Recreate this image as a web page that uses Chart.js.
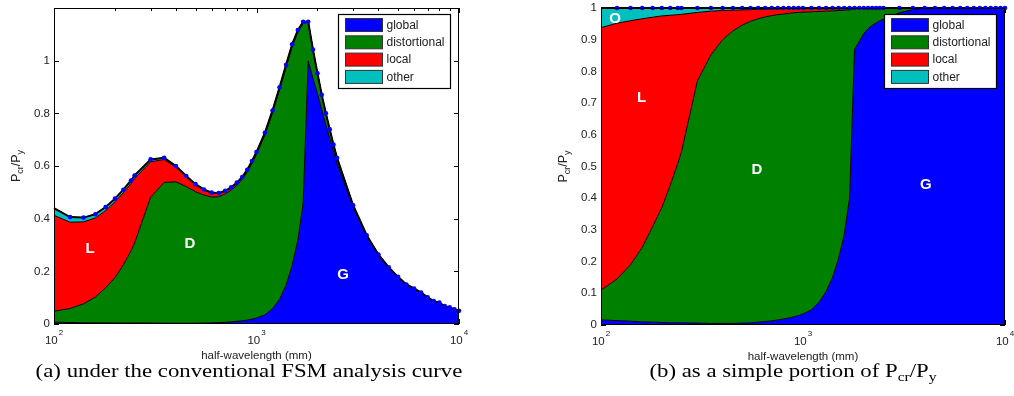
<!DOCTYPE html>
<html><head><meta charset="utf-8">
<script src="https://cdn.jsdelivr.net/npm/chart.js@4.4.0/dist/chart.umd.min.js"></script>
<style>
html,body{margin:0;padding:0;background:#fff;}
#wrap{position:relative;width:1014px;height:396px;overflow:hidden;background:#fff;}
canvas{position:absolute;top:0;}
</style></head><body>
<div id="wrap">
<canvas id="cA" width="507" height="396" style="left:0;width:507px;height:396px"></canvas>
<canvas id="cB" width="507" height="396" style="left:507px;width:507px;height:396px"></canvas>
</div>
<script>
// ---------------- data ----------------
const halfWavelength = [100,120,140,160,180,200,220,240,250,300,350,400,450,500,550,600,650,700,750,800,850,900,950,1000,
  1100,1200,1300,1400,1500,1600,1700,1800,1900,2000,2100,2200,2300,2400,2500,
  3000,3500,4000,4500,5000,5500,6000,6500,7000,7500,8000,8500,9000,9500,10000];
// P_cr / P_y from the conventional FSM curve
const pcrPy = [0.440,0.406,0.404,0.417,0.444,0.476,0.510,0.545,0.564,0.625,0.631,0.600,0.562,0.531,0.511,0.499,0.497,0.506,0.519,0.537,0.558,0.586,0.619,0.653,
  0.726,0.811,0.899,0.984,1.062,1.116,1.148,1.148,1.042,0.952,0.870,0.800,0.739,0.681,0.630,
  0.451,0.337,0.264,0.215,0.179,0.150,0.135,0.119,0.101,0.087,0.081,0.068,0.063,0.056,0.050];
// modal participation (portion of P_cr/P_y)
const globalPart = [0.016,0.014,0.012,0.010,0.009,0.008,0.007,0.007,0.007,0.006,0.005,0.005,0.005,0.006,0.007,0.009,0.011,0.013,0.016,0.019,0.022,0.026,0.030,0.035,
  0.048,0.072,0.105,0.150,0.210,0.285,0.400,0.870,0.895,0.920,0.935,0.945,0.953,0.960,0.965,
  0.985,0.995,1,1,1,1,1,1,1,1,1,1,1,1,1];
const distortionalPart = [0.094,0.131,0.178,0.235,0.301,0.362,0.433,0.503,0.538,0.764,0.847,0.895,0.923,0.940,0.951,0.957,0.961,0.963,0.963,0.962,0.961,0.959,0.956,0.952,
  0.940,0.917,0.885,0.841,0.782,0.708,0.594,0.129,0.105,0.080,0.065,0.055,0.047,0.040,0.035,
  0.015,0.005,0,0,0,0,0,0,0,0,0,0,0,0,0];
const localPart = [0.828,0.807,0.770,0.721,0.661,0.605,0.537,0.469,0.435,0.216,0.138,0.092,0.065,0.048,0.037,0.030,0.024,0.021,0.018,0.017,0.015,0.013,0.012,0.011,
  0.010,0.009,0.008,0.007,0.006,0.005,0.004,0.001,0,0,0,0,0,0,0,
  0,0,0,0,0,0,0,0,0,0,0,0,0,0,0];
const otherPart = [0.062,0.048,0.040,0.034,0.029,0.025,0.023,0.021,0.020,0.014,0.010,0.008,0.007,0.006,0.005,0.004,0.004,0.003,0.003,0.002,0.002,0.002,0.002,0.002,
  0.002,0.002,0.002,0.002,0.002,0.002,0.002,0,0,0,0,0,0,0,0,
  0,0,0,0,0,0,0,0,0,0,0,0,0,0,0];
const modeNames = ['global','distortional','local','other'];
const xTickPowers = [2,3,4];
const yTicksA = [0,0.2,0.4,0.6,0.8,1];
const yTicksB = [0,0.1,0.2,0.3,0.4,0.5,0.6,0.7,0.8,0.9,1];
const xTitle = 'half-wavelength (mm)';

// ---------------- styling ----------------
const modeColors = ['#0000ff','#008000','#ff0000','#00bfbf'];
const SANS = '"Liberation Sans", Arial, Helvetica, sans-serif';
const SERIF = '"Liberation Serif", "Times New Roman", serif';

function partsWidth(ctx, parts, f, fs) {
  let w = 0;
  parts.forEach(p => { ctx.font = p.sub ? fs : f; w += ctx.measureText(p.t).width; });
  return w;
}
function drawParts(ctx, parts, x, y, f, fs, subDy) {
  parts.forEach(p => {
    ctx.font = p.sub ? fs : f;
    ctx.fillText(p.t, x, p.sub ? y + subDy : y);
    x += ctx.measureText(p.t).width;
  });
}

function decorPlugin(cfg) {
  return {
    id: 'decor',
    beforeDraw(chart) {
      const {ctx, chartArea: a, scales: {x, y}} = chart;
      ctx.save();
      ctx.strokeStyle = '#000'; ctx.lineWidth = 1;
      ctx.beginPath();
      for (let p = xTickPowers[0]; p < xTickPowers[xTickPowers.length - 1]; p++) {
        for (let m = 1; m <= 10; m++) {
          const v = m * Math.pow(10, p);
          const px = Math.round(x.getPixelForValue(v)) + 0.5;
          const len = (m === 1 || m === 10) ? 5 : 3;
          ctx.moveTo(px, a.bottom); ctx.lineTo(px, a.bottom - len);
          ctx.moveTo(px, a.top); ctx.lineTo(px, a.top + len);
        }
      }
      cfg.yTicks.forEach(v => {
        const py = Math.round(y.getPixelForValue(v)) + 0.5;
        ctx.moveTo(a.left, py); ctx.lineTo(a.left + 5, py);
        ctx.moveTo(a.right, py); ctx.lineTo(a.right - 5, py);
      });
      ctx.stroke();
      ctx.restore();
    },
    afterDraw(chart) {
      const {ctx, chartArea: a, scales: {x, y}} = chart;
      ctx.save();
      // frame
      ctx.strokeStyle = '#000'; ctx.lineWidth = 1;
      ctx.strokeRect(Math.round(a.left) + 0.5, Math.round(a.top) + 0.5, Math.round(a.right - a.left) - 1, Math.round(a.bottom - a.top) - 1);
      ctx.fillStyle = '#222';
      // y tick labels
      ctx.font = '11.5px ' + SANS;
      ctx.textAlign = 'right'; ctx.textBaseline = 'middle';
      cfg.yTicks.forEach(v => {
        ctx.fillText(String(Math.round(v * 10) / 10), a.left - 4, y.getPixelForValue(v));
      });
      // x tick labels 10^n
      ctx.textAlign = 'left'; ctx.textBaseline = 'alphabetic';
      xTickPowers.forEach(p => {
        const px = x.getPixelForValue(Math.pow(10, p));
        ctx.font = '11.5px ' + SANS;
        const w1 = ctx.measureText('10').width;
        ctx.font = '8px ' + SANS;
        const w2 = ctx.measureText(String(p)).width;
        const s = px - (w1 + w2 + 1) / 2;
        ctx.font = '11.5px ' + SANS;
        ctx.fillText('10', s, a.bottom + 20);
        ctx.font = '8px ' + SANS;
        ctx.fillText(String(p), s + w1 + 1, a.bottom + 11);
      });
      // x title
      ctx.font = '11.5px ' + SANS;
      ctx.textAlign = 'center';
      ctx.fillText(xTitle, (a.left + a.right) / 2, a.bottom + 34.5);
      // y title  P_cr / P_y
      const yParts = [{t:'P'},{t:'cr',sub:true},{t:'/P'},{t:'y',sub:true}];
      ctx.save();
      ctx.translate(a.left - 34, (a.top + a.bottom) / 2);
      ctx.rotate(-Math.PI / 2);
      ctx.textAlign = 'left';
      const fy = '12.5px ' + SANS, fys = '9px ' + SANS;
      const wy = partsWidth(ctx, yParts, fy, fys);
      drawParts(ctx, yParts, -wy / 2, 0, fy, fys, 3);
      ctx.restore();
      // region labels
      ctx.fillStyle = '#fff';
      ctx.font = 'bold 15px ' + SANS;
      ctx.textAlign = 'center'; ctx.textBaseline = 'middle';
      cfg.labels.forEach(l => {
        ctx.fillText(l.t, x.getPixelForValue(l.x), y.getPixelForValue(l.y));
      });
      // legend
      const bw = 112, bh = 74;
      const bx = Math.round(a.right - 9 - bw) + 0.5, by = Math.round(a.top + 6) + 0.5;
      ctx.fillStyle = '#fff';
      ctx.fillRect(bx, by, bw, bh);
      ctx.lineWidth = 1.2; ctx.strokeStyle = '#000';
      ctx.strokeRect(bx, by, bw, bh);
      ctx.textAlign = 'left'; ctx.textBaseline = 'middle';
      ctx.font = '12px ' + SANS;
      modeNames.forEach((n, i) => {
        const sy = by + 4 + i * 17.3;
        ctx.fillStyle = modeColors[i];
        ctx.fillRect(bx + 7, sy, 37, 13);
        ctx.lineWidth = 1; ctx.strokeStyle = '#333';
        ctx.strokeRect(bx + 7, sy, 37, 13);
        ctx.fillStyle = '#222';
        ctx.fillText(n, bx + 48, sy + 7);
      });
      // caption
      ctx.fillStyle = '#000';
      ctx.textBaseline = 'alphabetic'; ctx.textAlign = 'left';
      ctx.save();
      ctx.translate(cfg.captionX, 377);
      ctx.scale(1.2, 1);
      const fc = '19px ' + SERIF, fcs = '13px ' + SERIF;
      const wc = partsWidth(ctx, cfg.caption, fc, fcs);
      drawParts(ctx, cfg.caption, -wc / 2, 0, fc, fcs, 4);
      ctx.restore();
      ctx.restore();
    }
  };
}

function makeChart(id, cfg) {
  const datasets = modeNames.map((name, k) => ({
    label: name,
    data: halfWavelength.map((L, i) => ({x: L, y: cfg.layers[k][i]})),
    backgroundColor: modeColors[k],
    borderColor: '#000',
    borderWidth: 1,
    pointRadius: 0,
    fill: k === 0 ? 'origin' : '-1',
    order: 1,
    stack: 'modes'
  }));
  datasets.push({
    label: 'curve',
    data: halfWavelength.map((L, i) => ({x: L, y: cfg.top[i]})),
    borderColor: '#000',
    borderWidth: 2,
    pointRadius: c => (c.dataIndex === 0 ? 0 : 2.3),
    pointBackgroundColor: '#0000ff',
    pointBorderWidth: 0,
    fill: false,
    order: 0,
    stack: 'curve',
    clip: false
  });
  return new Chart(document.getElementById(id), {
    type: 'line',
    data: {datasets},
    options: {
      responsive: false,
      animation: false,
      events: [],
      layout: {padding: cfg.padding},
      elements: {line: {tension: 0}},
      scales: {
        x: {type: 'logarithmic', min: 100, max: 10000, display: false},
        y: {type: 'linear', min: 0, max: cfg.ymax, stacked: true, display: false}
      },
      plugins: {legend: {display: false}, tooltip: {enabled: false}, filler: {drawTime: 'beforeDatasetsDraw'}}
    },
    plugins: [decorPlugin(cfg)]
  });
}

const fractions = [globalPart, distortionalPart, localPart, otherPart];

makeChart('cA', {
  layers: fractions.map(f => f.map((v, i) => v * pcrPy[i])),
  top: pcrPy,
  ymax: 1.2,
  yTicks: yTicksA,
  padding: {left: 54, right: 48, top: 8, bottom: 72},
  labels: [{t:'L', x:150.6, y:0.287}, {t:'D', x:469, y:0.304}, {t:'G', x:2676, y:0.186}],
  captionX: 249,
  caption: [{t:'(a) under the conventional FSM analysis curve'}]
});
makeChart('cB', {
  layers: fractions,
  top: halfWavelength.map((L, i) => globalPart[i] + distortionalPart[i] + localPart[i] + otherPart[i]),
  ymax: 1,
  yTicks: yTicksB,
  padding: {left: 94, right: 9, top: 8, bottom: 71},
  labels: [{t:'O', x:117.3, y:0.966}, {t:'L', x:158.6, y:0.716}, {t:'D', x:591, y:0.49}, {t:'G', x:4060, y:0.443}],
  captionX: 286,
  caption: [{t:'(b) as a simple portion of P'},{t:'cr',sub:true},{t:'/P'},{t:'y',sub:true}]
});
</script>
</body></html>
